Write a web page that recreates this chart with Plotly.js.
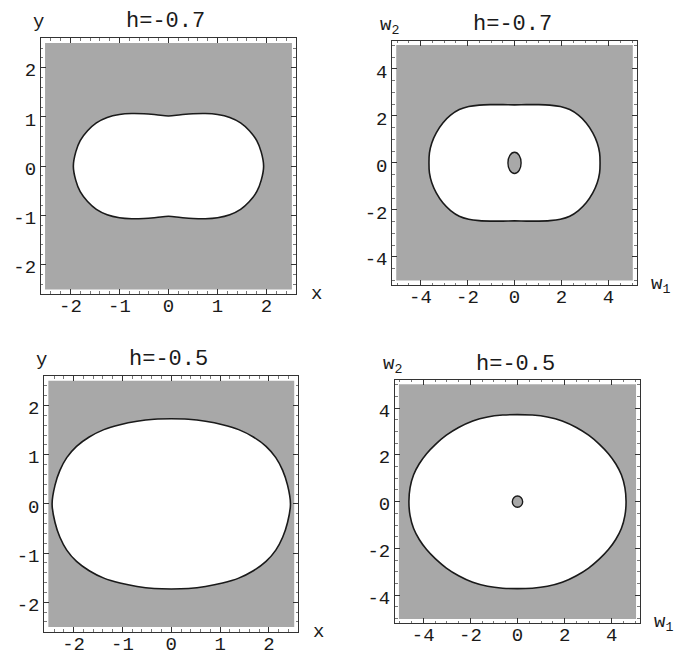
<!DOCTYPE html>
<html>
<head>
<meta charset="utf-8">
<script src="https://cdn.plot.ly/plotly-3.0.1.min.js"></script>
<style>
  html, body { margin: 0; padding: 0; background: #fff; }
  #chart { width: 675px; height: 659px; }
</style>
</head>
<body>
<div id="chart"></div>
<script>
// Each boundary is traced counter-clockwise starting from its top-centre point.

// Boundary of the allowed region in the (x, y) plane, h = -0.7
const xyCurveH07_x = [0.00, -0.25, -0.50, -0.75, -1.00, -1.25, -1.47, -1.65, -1.80, -1.89, -1.94, -1.89, -1.80, -1.65, -1.47, -1.25, -1.00, -0.75, -0.50, -0.25,
                      0.00, 0.25, 0.50, 0.75, 1.00, 1.25, 1.47, 1.65, 1.80, 1.89, 1.94, 1.89, 1.80, 1.65, 1.47, 1.25, 1.00, 0.75, 0.50, 0.25, 0.00];
const xyCurveH07_y = [1.02, 1.045, 1.065, 1.07, 1.05, 0.99, 0.88, 0.72, 0.52, 0.29, 0.00, -0.29, -0.52, -0.72, -0.88, -0.99, -1.05, -1.07, -1.065, -1.045,
                      -1.02, -1.045, -1.065, -1.07, -1.05, -0.99, -0.88, -0.72, -0.52, -0.29, 0.00, 0.29, 0.52, 0.72, 0.88, 0.99, 1.05, 1.07, 1.065, 1.045, 1.02];

// Boundary in the (w1, w2) plane, h = -0.7
const wCurveH07_x = [0.00, -0.50, -1.00, -1.50, -1.95, -2.35, -2.72, -3.05, -3.33, -3.52, -3.62, -3.64, -3.62, -3.52, -3.33, -3.05, -2.72, -2.35, -1.95, -1.50, -1.00, -0.50,
                     0.00, 0.50, 1.00, 1.50, 1.95, 2.35, 2.72, 3.05, 3.33, 3.52, 3.62, 3.64, 3.62, 3.52, 3.33, 3.05, 2.72, 2.35, 1.95, 1.50, 1.00, 0.50, 0.00];
const wCurveH07_y = [2.47, 2.48, 2.48, 2.46, 2.40, 2.27, 2.03, 1.70, 1.28, 0.85, 0.43, 0.00, -0.43, -0.85, -1.28, -1.70, -2.03, -2.27, -2.40, -2.46, -2.48, -2.48,
                     -2.47, -2.48, -2.48, -2.46, -2.40, -2.27, -2.03, -1.70, -1.28, -0.85, -0.43, 0.00, 0.43, 0.85, 1.28, 1.70, 2.03, 2.27, 2.40, 2.46, 2.48, 2.48, 2.47];

// Boundary in the (x, y) plane, h = -0.5
const xyCurveH05_x = [0.00, -0.35, -0.70, -1.05, -1.38, -1.68, -1.94, -2.14, -2.28, -2.38, -2.44, -2.38, -2.28, -2.14, -1.94, -1.68, -1.38, -1.05, -0.70, -0.35,
                      0.00, 0.35, 0.70, 1.05, 1.38, 1.68, 1.94, 2.14, 2.28, 2.38, 2.44, 2.38, 2.28, 2.14, 1.94, 1.68, 1.38, 1.05, 0.70, 0.35, 0.00];
const xyCurveH05_y = [1.73, 1.72, 1.68, 1.61, 1.51, 1.36, 1.17, 0.94, 0.68, 0.38, 0.00, -0.38, -0.68, -0.94, -1.17, -1.36, -1.51, -1.61, -1.68, -1.72,
                      -1.73, -1.72, -1.68, -1.61, -1.51, -1.36, -1.17, -0.94, -0.68, -0.38, 0.00, 0.38, 0.68, 0.94, 1.17, 1.36, 1.51, 1.61, 1.68, 1.72, 1.73];

// Boundary in the (w1, w2) plane, h = -0.5
const wCurveH05_x = [0.00, -0.63, -1.27, -1.90, -2.50, -3.02, -3.48, -3.86, -4.17, -4.41, -4.56, -4.61, -4.56, -4.41, -4.17, -3.86, -3.48, -3.02, -2.50, -1.90, -1.27, -0.63,
                     0.00, 0.63, 1.27, 1.90, 2.50, 3.02, 3.48, 3.86, 4.17, 4.41, 4.56, 4.61, 4.56, 4.41, 4.17, 3.86, 3.48, 3.02, 2.50, 1.90, 1.27, 0.63, 0.00];
const wCurveH05_y = [3.72, 3.70, 3.62, 3.45, 3.17, 2.84, 2.45, 2.05, 1.62, 1.15, 0.60, 0.00, -0.60, -1.15, -1.62, -2.05, -2.45, -2.84, -3.17, -3.45, -3.62, -3.70,
                     -3.72, -3.70, -3.62, -3.45, -3.17, -2.84, -2.45, -2.05, -1.62, -1.15, -0.60, 0.00, 0.60, 1.15, 1.62, 2.05, 2.45, 2.84, 3.17, 3.45, 3.62, 3.70, 3.72];

// Small forbidden island around the origin of the w-plane: [w1 min, w1 max, w2 min, w2 max]
const wIslandH07 = [-0.28, 0.28, -0.45, 0.45];
const wIslandH05 = [-0.22, 0.22, -0.24, 0.24];

// Panel titles and axis labels
const energyLabels = ["h=-0.7", "h=-0.5"];
const xyAxisNames = ["x", "y"];
const wAxisNames = ["w<sub>1</sub>", "w<sub>2</sub>"];

// Tick values and their labels
const xyTickVals = [-2, -1, 0, 1, 2];
const xyTickText = ["-2", "-1", "0", "1", "2"];
const wTickVals = [-4, -2, 0, 2, 4];
const wTickText = ["-4", "-2", "0", "2", "4"];

const FONT = "Liberation Mono, Courier New, monospace";
const INK = "#1a1a1a";
const SHADE = "#a8a8a8";

function boundary(xs, ys, xa, ya) {
  return {
    type: "scatter", mode: "lines", x: xs, y: ys, xaxis: xa, yaxis: ya,
    fill: "toself", fillcolor: "#ffffff",
    line: { color: INK, width: 1.6, shape: "spline", smoothing: 1 },
    hoverinfo: "skip", showlegend: false
  };
}

function axis(domain, range, vals, text, minorStep, anchor) {
  return {
    domain: domain, range: range, anchor: anchor,
    showgrid: false, zeroline: false,
    showline: true, linecolor: "#333", linewidth: 1, mirror: "ticks",
    ticks: "inside", ticklen: 5, tickwidth: 1, tickcolor: "#333",
    tickvals: vals, ticktext: text,
    minor: { ticks: "inside", ticklen: 2.5, tickwidth: 0.8, tickcolor: "#555", dtick: minorStep, showgrid: false },
    tickfont: { family: FONT, size: 19, color: INK },
    fixedrange: true
  };
}

const data = [
  boundary(xyCurveH07_x, xyCurveH07_y, "x", "y"),
  boundary(wCurveH07_x, wCurveH07_y, "x2", "y2"),
  boundary(xyCurveH05_x, xyCurveH05_y, "x3", "y3"),
  boundary(wCurveH05_x, wCurveH05_y, "x4", "y4")
];

// Panel frames in paper coordinates
const panels = [
  { xd: [0.0607, 0.4385], yd: [0.5539, 0.9419], r: 2.6, vals: xyTickVals, text: xyTickText, minor: 0.2, names: xyAxisNames, title: energyLabels[0] },
  { xd: [0.5812, 0.9433], yd: [0.5675, 0.9382], r: 5.2, vals: wTickVals, text: wTickText, minor: 0.5, names: wAxisNames, title: energyLabels[0] },
  { xd: [0.0656, 0.4419], yd: [0.0414, 0.4294], r: 2.6, vals: xyTickVals, text: xyTickText, minor: 0.2, names: xyAxisNames, title: energyLabels[1] },
  { xd: [0.5852, 0.9481], yd: [0.0542, 0.4234], r: 5.2, vals: wTickVals, text: wTickText, minor: 0.5, names: wAxisNames, title: energyLabels[1] }
];

const layout = {
  width: 675, height: 659,
  margin: { l: 0, r: 0, t: 0, b: 0 },
  paper_bgcolor: "#ffffff", plot_bgcolor: "#ffffff",
  showlegend: false,
  shapes: [], annotations: []
};

panels.forEach((p, i) => {
  const n = i === 0 ? "" : String(i + 1);
  const xa = "x" + n, ya = "y" + n;
  const xax = axis(p.xd, [-p.r, p.r], p.vals, p.text, p.minor, ya);
  const yax = axis(p.yd, [-p.r, p.r], p.vals, p.text, p.minor, xa);
  xax.ticklabelstandoff = -6;
  yax.ticklabelshift = 2;
  layout["xaxis" + n] = xax;
  layout["yaxis" + n] = yax;

  // shaded (forbidden) area of the contour plot, slightly inset from the frame
  layout.shapes.push({
    type: "rect", xref: xa + " domain", yref: ya + " domain",
    x0: 0.016, x1: 0.984, y0: 0.018, y1: 0.982,
    fillcolor: SHADE, line: { width: 0 }, layer: "below"
  });

  const txt = (text, x, y, xanchor, yanchor, size) => ({
    text: text, xref: xa + " domain", yref: ya + " domain", x: x, y: y,
    xanchor: xanchor, yanchor: yanchor, showarrow: false,
    font: { family: FONT, size: size, color: INK }
  });
  layout.annotations.push(txt(p.title, 0.49, 1.065, "center", "middle", 22));
  layout.annotations.push(txt(p.names[1], -0.01, 1.062, "center", "middle", 19));
  layout.annotations.push(txt(p.names[0], 1.05, 0.0, "left", "middle", 19));
});

// islands around the origin of the w-plane
[[wIslandH07, "x2", "y2"], [wIslandH05, "x4", "y4"]].forEach(([b, xa, ya]) => {
  layout.shapes.push({
    type: "circle", xref: xa, yref: ya,
    x0: b[0], x1: b[1], y0: b[2], y1: b[3],
    fillcolor: SHADE, line: { color: INK, width: 1.4 }, layer: "above"
  });
});

Plotly.newPlot("chart", data, layout, { staticPlot: true, displayModeBar: false });
</script>
</body>
</html>
